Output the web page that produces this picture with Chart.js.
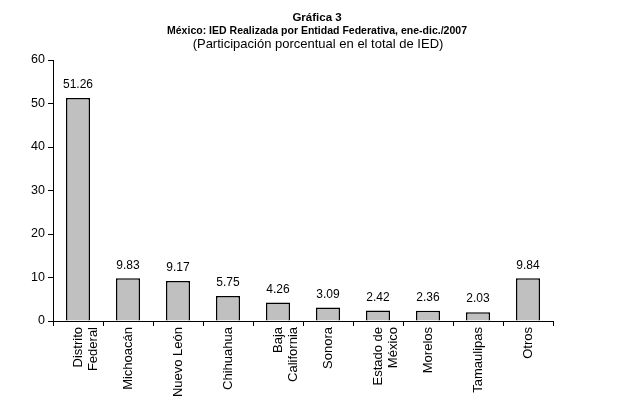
<!DOCTYPE html>
<html>
<head>
<meta charset="utf-8">
<script src="https://cdn.jsdelivr.net/npm/chart.js@4"></script>
<style>
  html, body { margin: 0; padding: 0; background: #fff; }
  #wrap { width: 640px; height: 400px; }
</style>
</head>
<body>
<div id="wrap"><canvas id="grafica"></canvas></div>
<script>
// Datos de la gráfica
const entidades = [
    ['Distrito', 'Federal'], 'Michoacán', 'Nuevo León', 'Chihuahua',
    ['Baja', 'California'], 'Sonora', ['Estado de', 'México'], 'Morelos',
    'Tamaulipas', 'Otros'
];
const participacion = [51.26, 9.83, 9.17, 5.75, 4.26, 3.09, 2.42, 2.36, 2.03, 9.84];
const tituloLineas = ['Gráfica 3', 'México: IED Realizada por Entidad Federativa, ene-dic./2007'];
const subtitulo = '(Participación porcentual en el total de IED)';

const fuente = 'Arial, "Liberation Sans", sans-serif';

// Títulos centrados sobre la página (no sobre el área del gráfico)
const titulos = {
    id: 'titulos',
    afterDraw(chart) {
        const ctx = chart.ctx;
        ctx.save();
        ctx.fillStyle = '#000';
        ctx.textAlign = 'center';
        ctx.textBaseline = 'middle';
        ctx.font = 'bold 11.5px ' + fuente;
        ctx.fillText(tituloLineas[0], 317, 18);
        ctx.fillText(tituloLineas[1], 317, 31, 300);
        ctx.font = '13px ' + fuente;
        ctx.fillText(subtitulo, 318, 44);
        ctx.restore();
    }
};

// Etiquetas de valor encima de cada barra
const etiquetasValor = {
    id: 'etiquetasValor',
    afterDatasetsDraw(chart) {
        const ctx = chart.ctx;
        const meta = chart.getDatasetMeta(0);
        ctx.save();
        ctx.font = '12px ' + fuente;
        ctx.fillStyle = '#000';
        ctx.textAlign = 'center';
        ctx.textBaseline = 'bottom';
        meta.data.forEach((bar, i) => {
            ctx.fillText(participacion[i].toFixed(2), bar.x, bar.y - 7);
        });
        ctx.restore();
    }
};

new Chart(document.getElementById('grafica'), {
    type: 'bar',
    data: {
        labels: entidades,
        datasets: [{
            data: participacion,
            backgroundColor: '#c0c0c0',
            borderColor: '#000',
            borderWidth: 1.5,
            barPercentage: 0.48,
            categoryPercentage: 1
        }]
    },
    options: {
        responsive: true,
        maintainAspectRatio: false,
        animation: false,
        layout: { padding: { left: 0, right: 87, top: 60, bottom: 0 } },
        plugins: {
            legend: { display: false },
            tooltip: { enabled: false },
            title: { display: false }
        },
        scales: {
            x: {
                grid: { display: true, drawOnChartArea: false, drawTicks: true, tickLength: 5, color: '#000', offset: true },
                border: { display: true, color: '#000', width: 1 },
                ticks: {
                    color: '#000',
                    font: { family: fuente, size: 13, lineHeight: 1.15 },
                    minRotation: 90,
                    maxRotation: 90,
                    autoSkip: false,
                    padding: 1
                },
                afterFit(scale) { scale.height = 79; }
            },
            y: {
                min: 0,
                max: 60,
                grid: { display: true, drawOnChartArea: false, drawTicks: true, tickLength: 5, color: '#000' },
                border: { display: true, color: '#000', width: 1 },
                ticks: {
                    stepSize: 10,
                    color: '#000',
                    font: { family: fuente, size: 12.5 },
                    padding: 3
                },
                afterFit(scale) { scale.width = 53; }
            }
        }
    },
    plugins: [titulos, etiquetasValor]
});
</script>
</body>
</html>
